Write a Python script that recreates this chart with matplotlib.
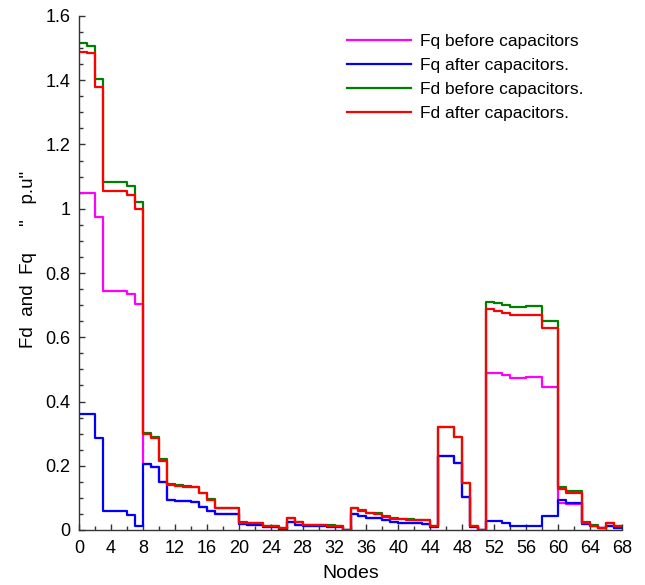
import numpy as np
import matplotlib
matplotlib.use("Agg")
import matplotlib.pyplot as plt
from matplotlib.ticker import MultipleLocator, FuncFormatter

plt.rcParams['font.family'] = ['Liberation Sans', 'DejaVu Sans']

# Node index (each value holds over the interval [n, n+1))
nodes = np.arange(0, 69)

fd_after = [1.487, 1.484, 1.378, 1.056, 1.056, 1.054, 1.044, 0.998,
            0.298, 0.286, 0.216, 0.140, 0.137, 0.135, 0.133, 0.114,
            0.093, 0.068, 0.068, 0.067, 0.023, 0.021, 0.021, 0.011,
            0.011, 0.005, 0.036, 0.024, 0.016, 0.015, 0.015, 0.014,
            0.012, 0.000, 0.069, 0.060, 0.052, 0.051, 0.042, 0.035,
            0.034, 0.032, 0.031, 0.030, 0.011, 0.320, 0.320, 0.288,
            0.145, 0.012, 0.000, 0.687, 0.681, 0.675, 0.669, 0.668,
            0.668, 0.668, 0.628, 0.628, 0.127, 0.114, 0.114, 0.023,
            0.014, 0.005, 0.021, 0.013]

fd_before = [1.515, 1.508, 1.404, 1.082, 1.082, 1.082, 1.072, 1.022,
             0.302, 0.291, 0.220, 0.142, 0.139, 0.137, 0.135, 0.116,
             0.095, 0.069, 0.069, 0.068, 0.024, 0.022, 0.022, 0.012,
             0.012, 0.006, 0.037, 0.025, 0.017, 0.016, 0.016, 0.015,
             0.013, 0.000, 0.070, 0.061, 0.053, 0.052, 0.043, 0.036,
             0.035, 0.033, 0.032, 0.031, 0.012, 0.321, 0.321, 0.289,
             0.146, 0.013, 0.000, 0.710, 0.708, 0.700, 0.693, 0.695,
             0.696, 0.697, 0.652, 0.652, 0.135, 0.120, 0.120, 0.024,
             0.015, 0.006, 0.022, 0.014]

fq_after = [0.361, 0.361, 0.287, 0.059, 0.059, 0.058, 0.047, 0.013,
            0.205, 0.197, 0.148, 0.093, 0.091, 0.091, 0.086, 0.073,
            0.060, 0.050, 0.050, 0.049, 0.019, 0.017, 0.017, 0.008,
            0.008, 0.002, 0.026, 0.016, 0.011, 0.011, 0.011, 0.010,
            0.008, 0.000, 0.050, 0.044, 0.037, 0.036, 0.030, 0.024,
            0.023, 0.022, 0.021, 0.020, 0.008, 0.230, 0.230, 0.210,
            0.104, 0.010, 0.000, 0.029, 0.029, 0.021, 0.013, 0.013,
            0.013, 0.014, 0.045, 0.045, 0.093, 0.083, 0.083, 0.018,
            0.011, 0.005, 0.011, 0.006]

fq_before = [1.050, 1.050, 0.975, 0.745, 0.745, 0.745, 0.735, 0.702,
             0.205, 0.197, 0.148, 0.093, 0.091, 0.091, 0.086, 0.073,
             0.060, 0.050, 0.050, 0.049, 0.019, 0.017, 0.017, 0.008,
             0.008, 0.002, 0.026, 0.016, 0.011, 0.011, 0.011, 0.010,
             0.008, 0.000, 0.050, 0.044, 0.037, 0.036, 0.030, 0.024,
             0.023, 0.022, 0.021, 0.020, 0.008, 0.230, 0.230, 0.210,
             0.104, 0.010, 0.000, 0.488, 0.488, 0.483, 0.474, 0.474,
             0.475, 0.475, 0.446, 0.446, 0.085, 0.081, 0.081, 0.018,
             0.011, 0.005, 0.011, 0.006]

series = [
    (fq_before, '#ff00ff', 'Fq before capacitors'),
    (fq_after, '#0000ff', 'Fq after capacitors.'),
    (fd_before, '#008000', 'Fd before capacitors.'),
    (fd_after, '#ff0000', 'Fd after capacitors.'),
]

fig = plt.figure(figsize=(6.45, 5.85), dpi=100)
ax = fig.add_axes([79 / 645, 55 / 585, 543 / 645, 514 / 585])

for vals, color, label in series:
    y = list(vals) + [vals[-1]]
    ax.step(nodes, y, where='post', color=color, lw=1.6, label=label)

ax.set_xlim(0, 68)
ax.set_ylim(0, 1.6)
ax.xaxis.set_major_locator(MultipleLocator(4))
ax.xaxis.set_minor_locator(MultipleLocator(2))
ax.yaxis.set_major_locator(MultipleLocator(0.2))
ax.yaxis.set_minor_locator(MultipleLocator(0.05))
ax.yaxis.set_major_formatter(FuncFormatter(lambda v, p: f"{v:g}"))

for side in ('top', 'right'):
    ax.spines[side].set_visible(False)
for side in ('left', 'bottom'):
    ax.spines[side].set_color('#333333')
    ax.spines[side].set_linewidth(1.0)

ax.tick_params(which='both', direction='in', colors='#333333',
               labelcolor='black', labelsize=13)
ax.tick_params(which='major', length=4, width=1)
ax.tick_params(which='minor', length=3, width=1)
ax.tick_params(axis='x', pad=7)
ax.tick_params(axis='y', pad=6)

ax.set_xlabel('Nodes', fontsize=14)
ax.xaxis.set_label_coords(0.5, -(578 - 530) / 514)
ax.xaxis.label.set_va('baseline')
ax.set_ylabel('Fd  and  Fq     "   p.u"', fontsize=13.5)
ax.yaxis.set_label_coords((37 - 79) / 543, (530 - 259) / 514)

leg = ax.legend(loc='upper left', bbox_to_anchor=(261 / 543, 1 - 11 / 514),
                frameon=False, fontsize=12.5, handlelength=3.7,
                handletextpad=0.5, labelspacing=0.5, borderaxespad=0)

fig.savefig('out.png', dpi=100)
